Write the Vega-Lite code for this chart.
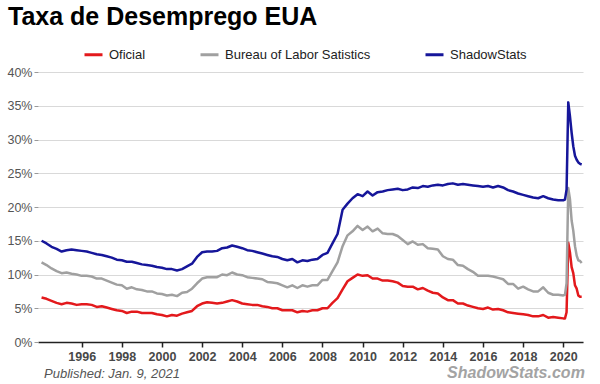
{
  "$schema": "https://vega.github.io/schema/vega-lite/v6.json",
  "autosize": "none",
  "width": 545,
  "height": 270,
  "padding": {"left": 38, "top": 72, "right": 17, "bottom": 42},
  "background": "white",
  "title": {
    "text": "Taxa de Desemprego EUA",
    "anchor": "start",
    "frame": "group",
    "font": "Liberation Sans",
    "fontSize": 25,
    "fontWeight": "bold",
    "color": "#000000",
    "dx": -30,
    "dy": -14,
    "offset": 0
  },
  "config": {
    "view": {"stroke": null},
    "font": "Liberation Sans"
  },
  "resolve": {"axis": {"x": "independent", "y": "independent"}},
  "layer": [
    {
      "data": {
        "values": [
          {"date":"1994-01-01","series":"Oficial","value":6.6},{"date":"1994-04-01","series":"Oficial","value":6.4},{"date":"1994-07-01","series":"Oficial","value":6.1},{"date":"1994-10-01","series":"Oficial","value":5.8},
          {"date":"1995-01-01","series":"Oficial","value":5.6},{"date":"1995-04-01","series":"Oficial","value":5.8},{"date":"1995-07-01","series":"Oficial","value":5.7},{"date":"1995-10-01","series":"Oficial","value":5.5},
          {"date":"1996-01-01","series":"Oficial","value":5.6},{"date":"1996-04-01","series":"Oficial","value":5.6},{"date":"1996-07-01","series":"Oficial","value":5.5},{"date":"1996-10-01","series":"Oficial","value":5.2},
          {"date":"1997-01-01","series":"Oficial","value":5.3},{"date":"1997-04-01","series":"Oficial","value":5.1},{"date":"1997-07-01","series":"Oficial","value":4.9},{"date":"1997-10-01","series":"Oficial","value":4.7},
          {"date":"1998-01-01","series":"Oficial","value":4.6},{"date":"1998-04-01","series":"Oficial","value":4.3},{"date":"1998-07-01","series":"Oficial","value":4.5},{"date":"1998-10-01","series":"Oficial","value":4.5},
          {"date":"1999-01-01","series":"Oficial","value":4.3},{"date":"1999-04-01","series":"Oficial","value":4.3},{"date":"1999-07-01","series":"Oficial","value":4.3},{"date":"1999-10-01","series":"Oficial","value":4.1},
          {"date":"2000-01-01","series":"Oficial","value":4.0},{"date":"2000-04-01","series":"Oficial","value":3.8},{"date":"2000-07-01","series":"Oficial","value":4.0},{"date":"2000-10-01","series":"Oficial","value":3.9},
          {"date":"2001-01-01","series":"Oficial","value":4.2},{"date":"2001-04-01","series":"Oficial","value":4.4},{"date":"2001-07-01","series":"Oficial","value":4.6},{"date":"2001-10-01","series":"Oficial","value":5.3},
          {"date":"2002-01-01","series":"Oficial","value":5.7},{"date":"2002-04-01","series":"Oficial","value":5.9},{"date":"2002-07-01","series":"Oficial","value":5.8},{"date":"2002-10-01","series":"Oficial","value":5.7},
          {"date":"2003-01-01","series":"Oficial","value":5.8},{"date":"2003-04-01","series":"Oficial","value":6.0},{"date":"2003-07-01","series":"Oficial","value":6.2},{"date":"2003-10-01","series":"Oficial","value":6.0},
          {"date":"2004-01-01","series":"Oficial","value":5.7},{"date":"2004-04-01","series":"Oficial","value":5.6},{"date":"2004-07-01","series":"Oficial","value":5.5},{"date":"2004-10-01","series":"Oficial","value":5.5},
          {"date":"2005-01-01","series":"Oficial","value":5.3},{"date":"2005-04-01","series":"Oficial","value":5.2},{"date":"2005-07-01","series":"Oficial","value":5.0},{"date":"2005-10-01","series":"Oficial","value":5.0},
          {"date":"2006-01-01","series":"Oficial","value":4.7},{"date":"2006-04-01","series":"Oficial","value":4.7},{"date":"2006-07-01","series":"Oficial","value":4.7},{"date":"2006-10-01","series":"Oficial","value":4.4},
          {"date":"2007-01-01","series":"Oficial","value":4.6},{"date":"2007-04-01","series":"Oficial","value":4.5},{"date":"2007-07-01","series":"Oficial","value":4.7},{"date":"2007-10-01","series":"Oficial","value":4.7},
          {"date":"2008-01-01","series":"Oficial","value":5.0},{"date":"2008-04-01","series":"Oficial","value":5.0},{"date":"2008-07-01","series":"Oficial","value":5.8},{"date":"2008-10-01","series":"Oficial","value":6.5},
          {"date":"2009-01-01","series":"Oficial","value":7.8},{"date":"2009-04-01","series":"Oficial","value":9.0},{"date":"2009-07-01","series":"Oficial","value":9.5},{"date":"2009-10-01","series":"Oficial","value":10.0},
          {"date":"2010-01-01","series":"Oficial","value":9.8},{"date":"2010-04-01","series":"Oficial","value":9.9},{"date":"2010-07-01","series":"Oficial","value":9.4},{"date":"2010-10-01","series":"Oficial","value":9.4},
          {"date":"2011-01-01","series":"Oficial","value":9.1},{"date":"2011-04-01","series":"Oficial","value":9.1},{"date":"2011-07-01","series":"Oficial","value":9.0},{"date":"2011-10-01","series":"Oficial","value":8.8},
          {"date":"2012-01-01","series":"Oficial","value":8.3},{"date":"2012-04-01","series":"Oficial","value":8.2},{"date":"2012-07-01","series":"Oficial","value":8.2},{"date":"2012-10-01","series":"Oficial","value":7.8},
          {"date":"2013-01-01","series":"Oficial","value":8.0},{"date":"2013-04-01","series":"Oficial","value":7.6},{"date":"2013-07-01","series":"Oficial","value":7.3},{"date":"2013-10-01","series":"Oficial","value":7.2},
          {"date":"2014-01-01","series":"Oficial","value":6.6},{"date":"2014-04-01","series":"Oficial","value":6.2},{"date":"2014-07-01","series":"Oficial","value":6.2},{"date":"2014-10-01","series":"Oficial","value":5.7},
          {"date":"2015-01-01","series":"Oficial","value":5.7},{"date":"2015-04-01","series":"Oficial","value":5.4},{"date":"2015-07-01","series":"Oficial","value":5.2},{"date":"2015-10-01","series":"Oficial","value":5.0},
          {"date":"2016-01-01","series":"Oficial","value":4.9},{"date":"2016-04-01","series":"Oficial","value":5.1},{"date":"2016-07-01","series":"Oficial","value":4.8},{"date":"2016-10-01","series":"Oficial","value":4.9},
          {"date":"2017-01-01","series":"Oficial","value":4.7},{"date":"2017-04-01","series":"Oficial","value":4.4},{"date":"2017-07-01","series":"Oficial","value":4.3},{"date":"2017-10-01","series":"Oficial","value":4.2},
          {"date":"2018-01-01","series":"Oficial","value":4.1},{"date":"2018-04-01","series":"Oficial","value":4.0},{"date":"2018-07-01","series":"Oficial","value":3.8},{"date":"2018-10-01","series":"Oficial","value":3.8},
          {"date":"2019-01-01","series":"Oficial","value":4.0},{"date":"2019-04-01","series":"Oficial","value":3.6},{"date":"2019-07-01","series":"Oficial","value":3.7},{"date":"2019-10-01","series":"Oficial","value":3.6},
          {"date":"2020-01-01","series":"Oficial","value":3.5},{"date":"2020-02-01","series":"Oficial","value":3.5},{"date":"2020-03-01","series":"Oficial","value":4.4},{"date":"2020-04-01","series":"Oficial","value":14.7},
          {"date":"2020-05-01","series":"Oficial","value":13.3},{"date":"2020-06-01","series":"Oficial","value":11.1},{"date":"2020-07-01","series":"Oficial","value":10.2},{"date":"2020-08-01","series":"Oficial","value":8.4},
          {"date":"2020-09-01","series":"Oficial","value":7.9},{"date":"2020-10-01","series":"Oficial","value":6.9},{"date":"2020-11-01","series":"Oficial","value":6.7},{"date":"2020-12-01","series":"Oficial","value":6.7},

          {"date":"1994-01-01","series":"Bureau of Labor Satistics","value":11.8},{"date":"1994-04-01","series":"Bureau of Labor Satistics","value":11.4},{"date":"1994-07-01","series":"Bureau of Labor Satistics","value":10.9},{"date":"1994-10-01","series":"Bureau of Labor Satistics","value":10.5},
          {"date":"1995-01-01","series":"Bureau of Labor Satistics","value":10.2},{"date":"1995-04-01","series":"Bureau of Labor Satistics","value":10.3},{"date":"1995-07-01","series":"Bureau of Labor Satistics","value":10.1},{"date":"1995-10-01","series":"Bureau of Labor Satistics","value":10.0},
          {"date":"1996-01-01","series":"Bureau of Labor Satistics","value":9.8},{"date":"1996-04-01","series":"Bureau of Labor Satistics","value":9.8},{"date":"1996-07-01","series":"Bureau of Labor Satistics","value":9.7},{"date":"1996-10-01","series":"Bureau of Labor Satistics","value":9.4},
          {"date":"1997-01-01","series":"Bureau of Labor Satistics","value":9.4},{"date":"1997-04-01","series":"Bureau of Labor Satistics","value":9.1},{"date":"1997-07-01","series":"Bureau of Labor Satistics","value":8.8},{"date":"1997-10-01","series":"Bureau of Labor Satistics","value":8.5},
          {"date":"1998-01-01","series":"Bureau of Labor Satistics","value":8.4},{"date":"1998-04-01","series":"Bureau of Labor Satistics","value":7.9},{"date":"1998-07-01","series":"Bureau of Labor Satistics","value":8.1},{"date":"1998-10-01","series":"Bureau of Labor Satistics","value":7.8},
          {"date":"1999-01-01","series":"Bureau of Labor Satistics","value":7.7},{"date":"1999-04-01","series":"Bureau of Labor Satistics","value":7.5},{"date":"1999-07-01","series":"Bureau of Labor Satistics","value":7.5},{"date":"1999-10-01","series":"Bureau of Labor Satistics","value":7.2},
          {"date":"2000-01-01","series":"Bureau of Labor Satistics","value":7.1},{"date":"2000-04-01","series":"Bureau of Labor Satistics","value":6.9},{"date":"2000-07-01","series":"Bureau of Labor Satistics","value":7.0},{"date":"2000-10-01","series":"Bureau of Labor Satistics","value":6.8},
          {"date":"2001-01-01","series":"Bureau of Labor Satistics","value":7.3},{"date":"2001-04-01","series":"Bureau of Labor Satistics","value":7.4},{"date":"2001-07-01","series":"Bureau of Labor Satistics","value":7.9},{"date":"2001-10-01","series":"Bureau of Labor Satistics","value":8.7},
          {"date":"2002-01-01","series":"Bureau of Labor Satistics","value":9.4},{"date":"2002-04-01","series":"Bureau of Labor Satistics","value":9.6},{"date":"2002-07-01","series":"Bureau of Labor Satistics","value":9.6},{"date":"2002-10-01","series":"Bureau of Labor Satistics","value":9.6},
          {"date":"2003-01-01","series":"Bureau of Labor Satistics","value":10.0},{"date":"2003-04-01","series":"Bureau of Labor Satistics","value":9.9},{"date":"2003-07-01","series":"Bureau of Labor Satistics","value":10.3},{"date":"2003-10-01","series":"Bureau of Labor Satistics","value":10.0},
          {"date":"2004-01-01","series":"Bureau of Labor Satistics","value":9.9},{"date":"2004-04-01","series":"Bureau of Labor Satistics","value":9.6},{"date":"2004-07-01","series":"Bureau of Labor Satistics","value":9.5},{"date":"2004-10-01","series":"Bureau of Labor Satistics","value":9.4},
          {"date":"2005-01-01","series":"Bureau of Labor Satistics","value":9.3},{"date":"2005-04-01","series":"Bureau of Labor Satistics","value":8.9},{"date":"2005-07-01","series":"Bureau of Labor Satistics","value":8.8},{"date":"2005-10-01","series":"Bureau of Labor Satistics","value":8.7},
          {"date":"2006-01-01","series":"Bureau of Labor Satistics","value":8.4},{"date":"2006-04-01","series":"Bureau of Labor Satistics","value":8.1},{"date":"2006-07-01","series":"Bureau of Labor Satistics","value":8.4},{"date":"2006-10-01","series":"Bureau of Labor Satistics","value":8.0},
          {"date":"2007-01-01","series":"Bureau of Labor Satistics","value":8.4},{"date":"2007-04-01","series":"Bureau of Labor Satistics","value":8.2},{"date":"2007-07-01","series":"Bureau of Labor Satistics","value":8.4},{"date":"2007-10-01","series":"Bureau of Labor Satistics","value":8.4},
          {"date":"2008-01-01","series":"Bureau of Labor Satistics","value":9.2},{"date":"2008-04-01","series":"Bureau of Labor Satistics","value":9.2},{"date":"2008-07-01","series":"Bureau of Labor Satistics","value":10.5},{"date":"2008-10-01","series":"Bureau of Labor Satistics","value":11.8},
          {"date":"2009-01-01","series":"Bureau of Labor Satistics","value":14.2},{"date":"2009-04-01","series":"Bureau of Labor Satistics","value":15.8},{"date":"2009-07-01","series":"Bureau of Labor Satistics","value":16.4},{"date":"2009-10-01","series":"Bureau of Labor Satistics","value":17.2},
          {"date":"2010-01-01","series":"Bureau of Labor Satistics","value":16.6},{"date":"2010-04-01","series":"Bureau of Labor Satistics","value":17.1},{"date":"2010-07-01","series":"Bureau of Labor Satistics","value":16.4},{"date":"2010-10-01","series":"Bureau of Labor Satistics","value":16.8},
          {"date":"2011-01-01","series":"Bureau of Labor Satistics","value":16.1},{"date":"2011-04-01","series":"Bureau of Labor Satistics","value":16.0},{"date":"2011-07-01","series":"Bureau of Labor Satistics","value":16.0},{"date":"2011-10-01","series":"Bureau of Labor Satistics","value":15.7},
          {"date":"2012-01-01","series":"Bureau of Labor Satistics","value":15.1},{"date":"2012-04-01","series":"Bureau of Labor Satistics","value":14.5},{"date":"2012-07-01","series":"Bureau of Labor Satistics","value":14.9},{"date":"2012-10-01","series":"Bureau of Labor Satistics","value":14.4},
          {"date":"2013-01-01","series":"Bureau of Labor Satistics","value":14.5},{"date":"2013-04-01","series":"Bureau of Labor Satistics","value":13.9},{"date":"2013-07-01","series":"Bureau of Labor Satistics","value":13.8},{"date":"2013-10-01","series":"Bureau of Labor Satistics","value":13.7},
          {"date":"2014-01-01","series":"Bureau of Labor Satistics","value":12.7},{"date":"2014-04-01","series":"Bureau of Labor Satistics","value":12.3},{"date":"2014-07-01","series":"Bureau of Labor Satistics","value":12.2},{"date":"2014-10-01","series":"Bureau of Labor Satistics","value":11.4},
          {"date":"2015-01-01","series":"Bureau of Labor Satistics","value":11.3},{"date":"2015-04-01","series":"Bureau of Labor Satistics","value":10.8},{"date":"2015-07-01","series":"Bureau of Labor Satistics","value":10.4},{"date":"2015-10-01","series":"Bureau of Labor Satistics","value":9.8},
          {"date":"2016-01-01","series":"Bureau of Labor Satistics","value":9.8},{"date":"2016-04-01","series":"Bureau of Labor Satistics","value":9.8},{"date":"2016-07-01","series":"Bureau of Labor Satistics","value":9.7},{"date":"2016-10-01","series":"Bureau of Labor Satistics","value":9.5},
          {"date":"2017-01-01","series":"Bureau of Labor Satistics","value":9.3},{"date":"2017-04-01","series":"Bureau of Labor Satistics","value":8.6},{"date":"2017-07-01","series":"Bureau of Labor Satistics","value":8.6},{"date":"2017-10-01","series":"Bureau of Labor Satistics","value":7.9},
          {"date":"2018-01-01","series":"Bureau of Labor Satistics","value":8.2},{"date":"2018-04-01","series":"Bureau of Labor Satistics","value":7.8},{"date":"2018-07-01","series":"Bureau of Labor Satistics","value":7.5},{"date":"2018-10-01","series":"Bureau of Labor Satistics","value":7.5},
          {"date":"2019-01-01","series":"Bureau of Labor Satistics","value":8.1},{"date":"2019-04-01","series":"Bureau of Labor Satistics","value":7.3},{"date":"2019-07-01","series":"Bureau of Labor Satistics","value":7.0},{"date":"2019-10-01","series":"Bureau of Labor Satistics","value":7.0},
          {"date":"2020-01-01","series":"Bureau of Labor Satistics","value":6.9},{"date":"2020-02-01","series":"Bureau of Labor Satistics","value":7.0},{"date":"2020-03-01","series":"Bureau of Labor Satistics","value":8.7},{"date":"2020-04-01","series":"Bureau of Labor Satistics","value":22.8},
          {"date":"2020-05-01","series":"Bureau of Labor Satistics","value":21.2},{"date":"2020-06-01","series":"Bureau of Labor Satistics","value":18.0},{"date":"2020-07-01","series":"Bureau of Labor Satistics","value":16.5},{"date":"2020-08-01","series":"Bureau of Labor Satistics","value":14.2},
          {"date":"2020-09-01","series":"Bureau of Labor Satistics","value":12.8},{"date":"2020-10-01","series":"Bureau of Labor Satistics","value":12.1},{"date":"2020-11-01","series":"Bureau of Labor Satistics","value":12.0},{"date":"2020-12-01","series":"Bureau of Labor Satistics","value":11.7},

          {"date":"1994-01-01","series":"ShadowStats","value":15.0},{"date":"1994-04-01","series":"ShadowStats","value":14.6},{"date":"1994-07-01","series":"ShadowStats","value":14.1},{"date":"1994-10-01","series":"ShadowStats","value":13.8},
          {"date":"1995-01-01","series":"ShadowStats","value":13.4},{"date":"1995-04-01","series":"ShadowStats","value":13.6},{"date":"1995-07-01","series":"ShadowStats","value":13.7},{"date":"1995-10-01","series":"ShadowStats","value":13.6},
          {"date":"1996-01-01","series":"ShadowStats","value":13.5},{"date":"1996-04-01","series":"ShadowStats","value":13.4},{"date":"1996-07-01","series":"ShadowStats","value":13.2},{"date":"1996-10-01","series":"ShadowStats","value":13.0},
          {"date":"1997-01-01","series":"ShadowStats","value":12.9},{"date":"1997-04-01","series":"ShadowStats","value":12.7},{"date":"1997-07-01","series":"ShadowStats","value":12.5},{"date":"1997-10-01","series":"ShadowStats","value":12.2},
          {"date":"1998-01-01","series":"ShadowStats","value":12.1},{"date":"1998-04-01","series":"ShadowStats","value":11.9},{"date":"1998-07-01","series":"ShadowStats","value":11.9},{"date":"1998-10-01","series":"ShadowStats","value":11.7},
          {"date":"1999-01-01","series":"ShadowStats","value":11.5},{"date":"1999-04-01","series":"ShadowStats","value":11.4},{"date":"1999-07-01","series":"ShadowStats","value":11.3},{"date":"1999-10-01","series":"ShadowStats","value":11.1},
          {"date":"2000-01-01","series":"ShadowStats","value":11.0},{"date":"2000-04-01","series":"ShadowStats","value":10.8},{"date":"2000-07-01","series":"ShadowStats","value":10.8},{"date":"2000-10-01","series":"ShadowStats","value":10.6},
          {"date":"2001-01-01","series":"ShadowStats","value":10.8},{"date":"2001-04-01","series":"ShadowStats","value":11.2},{"date":"2001-07-01","series":"ShadowStats","value":11.6},{"date":"2001-10-01","series":"ShadowStats","value":12.6},
          {"date":"2002-01-01","series":"ShadowStats","value":13.3},{"date":"2002-04-01","series":"ShadowStats","value":13.4},{"date":"2002-07-01","series":"ShadowStats","value":13.4},{"date":"2002-10-01","series":"ShadowStats","value":13.5},
          {"date":"2003-01-01","series":"ShadowStats","value":13.9},{"date":"2003-04-01","series":"ShadowStats","value":14.0},{"date":"2003-07-01","series":"ShadowStats","value":14.3},{"date":"2003-10-01","series":"ShadowStats","value":14.1},
          {"date":"2004-01-01","series":"ShadowStats","value":13.9},{"date":"2004-04-01","series":"ShadowStats","value":13.6},{"date":"2004-07-01","series":"ShadowStats","value":13.5},{"date":"2004-10-01","series":"ShadowStats","value":13.3},
          {"date":"2005-01-01","series":"ShadowStats","value":13.1},{"date":"2005-04-01","series":"ShadowStats","value":12.9},{"date":"2005-07-01","series":"ShadowStats","value":12.7},{"date":"2005-10-01","series":"ShadowStats","value":12.6},
          {"date":"2006-01-01","series":"ShadowStats","value":12.3},{"date":"2006-04-01","series":"ShadowStats","value":12.1},{"date":"2006-07-01","series":"ShadowStats","value":12.3},{"date":"2006-10-01","series":"ShadowStats","value":11.8},
          {"date":"2007-01-01","series":"ShadowStats","value":12.1},{"date":"2007-04-01","series":"ShadowStats","value":12.0},{"date":"2007-07-01","series":"ShadowStats","value":12.2},{"date":"2007-10-01","series":"ShadowStats","value":12.3},
          {"date":"2008-01-01","series":"ShadowStats","value":12.9},{"date":"2008-04-01","series":"ShadowStats","value":13.2},{"date":"2008-07-01","series":"ShadowStats","value":14.6},{"date":"2008-10-01","series":"ShadowStats","value":16.0},
          {"date":"2009-01-01","series":"ShadowStats","value":19.6},{"date":"2009-04-01","series":"ShadowStats","value":20.5},{"date":"2009-07-01","series":"ShadowStats","value":21.3},{"date":"2009-10-01","series":"ShadowStats","value":21.9},
          {"date":"2010-01-01","series":"ShadowStats","value":21.6},{"date":"2010-04-01","series":"ShadowStats","value":22.3},{"date":"2010-07-01","series":"ShadowStats","value":21.7},{"date":"2010-10-01","series":"ShadowStats","value":22.2},
          {"date":"2011-01-01","series":"ShadowStats","value":22.3},{"date":"2011-04-01","series":"ShadowStats","value":22.5},{"date":"2011-07-01","series":"ShadowStats","value":22.6},{"date":"2011-10-01","series":"ShadowStats","value":22.7},
          {"date":"2012-01-01","series":"ShadowStats","value":22.5},{"date":"2012-04-01","series":"ShadowStats","value":22.6},{"date":"2012-07-01","series":"ShadowStats","value":22.9},{"date":"2012-10-01","series":"ShadowStats","value":22.8},
          {"date":"2013-01-01","series":"ShadowStats","value":23.1},{"date":"2013-04-01","series":"ShadowStats","value":23.0},{"date":"2013-07-01","series":"ShadowStats","value":23.2},{"date":"2013-10-01","series":"ShadowStats","value":23.3},
          {"date":"2014-01-01","series":"ShadowStats","value":23.2},{"date":"2014-04-01","series":"ShadowStats","value":23.4},{"date":"2014-07-01","series":"ShadowStats","value":23.5},{"date":"2014-10-01","series":"ShadowStats","value":23.3},
          {"date":"2015-01-01","series":"ShadowStats","value":23.4},{"date":"2015-04-01","series":"ShadowStats","value":23.3},{"date":"2015-07-01","series":"ShadowStats","value":23.2},{"date":"2015-10-01","series":"ShadowStats","value":23.1},
          {"date":"2016-01-01","series":"ShadowStats","value":23.0},{"date":"2016-04-01","series":"ShadowStats","value":23.1},{"date":"2016-07-01","series":"ShadowStats","value":22.9},{"date":"2016-10-01","series":"ShadowStats","value":23.1},
          {"date":"2017-01-01","series":"ShadowStats","value":22.9},{"date":"2017-04-01","series":"ShadowStats","value":22.5},{"date":"2017-07-01","series":"ShadowStats","value":22.3},{"date":"2017-10-01","series":"ShadowStats","value":22.0},
          {"date":"2018-01-01","series":"ShadowStats","value":21.8},{"date":"2018-04-01","series":"ShadowStats","value":21.6},{"date":"2018-07-01","series":"ShadowStats","value":21.4},{"date":"2018-10-01","series":"ShadowStats","value":21.3},
          {"date":"2019-01-01","series":"ShadowStats","value":21.6},{"date":"2019-04-01","series":"ShadowStats","value":21.3},{"date":"2019-07-01","series":"ShadowStats","value":21.1},{"date":"2019-10-01","series":"ShadowStats","value":21.0},
          {"date":"2020-01-01","series":"ShadowStats","value":21.0},{"date":"2020-02-01","series":"ShadowStats","value":21.1},{"date":"2020-03-01","series":"ShadowStats","value":22.6},{"date":"2020-04-01","series":"ShadowStats","value":35.5},
          {"date":"2020-05-01","series":"ShadowStats","value":33.5},{"date":"2020-06-01","series":"ShadowStats","value":31.0},{"date":"2020-07-01","series":"ShadowStats","value":29.0},{"date":"2020-08-01","series":"ShadowStats","value":27.6},
          {"date":"2020-09-01","series":"ShadowStats","value":27.0},{"date":"2020-10-01","series":"ShadowStats","value":26.6},{"date":"2020-11-01","series":"ShadowStats","value":26.4},{"date":"2020-12-01","series":"ShadowStats","value":26.3}
        ]
      },
      "mark": {"type": "line", "strokeWidth": 2.5, "strokeJoin": "round"},
      "encoding": {
        "x": {
          "field": "date",
          "type": "temporal",
          "scale": {
            "type": "utc",
            "domain": [
              {"year": 1993, "month": 10, "date": 28, "utc": true},
              {"year": 2020, "month": 12, "date": 25, "utc": true}
            ]
          },
          "axis": {
            "title": null,
            "values": [
              {"year": 1996, "utc": true},{"year": 1998, "utc": true},{"year": 2000, "utc": true},{"year": 2002, "utc": true},
              {"year": 2004, "utc": true},{"year": 2006, "utc": true},{"year": 2008, "utc": true},{"year": 2010, "utc": true},
              {"year": 2012, "utc": true},{"year": 2014, "utc": true},{"year": 2016, "utc": true},{"year": 2018, "utc": true},
              {"year": 2020, "utc": true}
            ],
            "format": "%Y",
            "grid": false,
            "domain": true,
            "domainColor": "#222222",
            "domainWidth": 1.5,
            "ticks": true,
            "tickColor": "#222222",
            "tickWidth": 1.5,
            "tickSize": 5,
            "labelFont": "Liberation Sans",
            "labelFontSize": 12.5,
            "labelFontWeight": "bold",
            "labelColor": "#484848",
            "labelPadding": 3,
            "labelFlush": false,
            "labelOverlap": false
          }
        },
        "y": {
          "field": "value",
          "type": "quantitative",
          "scale": {"domain": [0, 40], "nice": false, "zero": true},
          "axis": {
            "title": null,
            "values": [0, 5, 10, 15, 20, 25, 30, 35, 40],
            "labelExpr": "datum.value + '%'",
            "labelOverlap": false,
            "domain": false,
            "ticks": true,
            "tickColor": "#999999",
            "tickSize": 4,
            "labelFont": "Liberation Sans",
            "labelFontSize": 12.5,
            "labelColor": "#555555",
            "labelPadding": 2,
            "grid": true,
            "gridColor": "#d9d9d9",
            "gridWidth": 1
          }
        },
        "color": {
          "field": "series",
          "type": "nominal",
          "scale": {
            "domain": ["Oficial", "Bureau of Labor Satistics", "ShadowStats"],
            "range": ["#e3191c", "#a0a0a0", "#16169a"]
          },
          "legend": {
            "title": null,
            "orient": "none",
            "direction": "horizontal",
            "legendX": 45,
            "legendY": -28,
            "symbolType": "stroke",
            "symbolSize": 324,
            "symbolStrokeWidth": 3,
            "labelFont": "Liberation Sans",
            "labelFontSize": 13,
            "labelColor": "#222222",
            "labelOffset": 5,
            "columnPadding": 48
          }
        }
      }
    },
    {
      "data": {"values": [{"note": "Published: Jan. 9, 2021"}]},
      "mark": {"type": "text", "align": "left", "baseline": "alphabetic", "font": "Liberation Sans", "fontSize": 13, "fontStyle": "italic", "color": "#555555"},
      "encoding": {
        "text": {"field": "note"},
        "x": {"datum": {"year": 1994, "month": 2, "date": 15, "utc": true}, "type": "temporal", "axis": null},
        "y": {"datum": -5.3, "type": "quantitative", "axis": null}
      }
    },
    {
      "data": {"values": [{"note": "ShadowStats.com"}]},
      "mark": {"type": "text", "align": "right", "baseline": "alphabetic", "font": "Liberation Sans", "fontSize": 16, "fontStyle": "italic", "fontWeight": "bold", "color": "#a3a3a3"},
      "encoding": {
        "text": {"field": "note"},
        "x": {"datum": {"year": 2021, "month": 1, "date": 28, "utc": true}, "type": "temporal", "axis": null},
        "y": {"datum": -5.3, "type": "quantitative", "axis": null}
      }
    }
  ]
}
